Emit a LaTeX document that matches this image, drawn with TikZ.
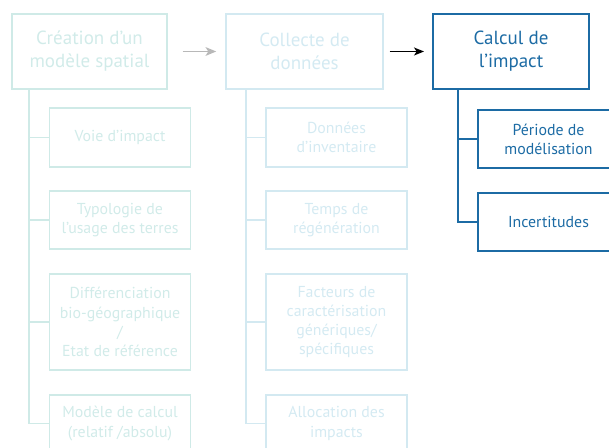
\documentclass[tikz,border=0pt]{standalone}
\usepackage{fontspec}
\setmainfont{PT Sans}
\usetikzlibrary{arrows.meta,calc}
\definecolor{tealA}{HTML}{CFEAE7}
\definecolor{tealT}{HTML}{D1EBE9}
\definecolor{blueB}{HTML}{D3E9F1}
\definecolor{blueT}{HTML}{D4EAF2}
\definecolor{blueC}{HTML}{1C6BA4}
\definecolor{grayarr}{HTML}{B8B8B8}
\tikzset{
  mainbox/.style={draw, minimum width=155*0.75pt, minimum height=75*0.75pt, inner sep=0pt, align=center,
    font=\fontsize{14.25pt}{17.25pt}\selectfont},
  subbox/.style={draw, minimum width=141*0.75pt, inner sep=0pt, align=center,
    font=\fontsize{11.9pt}{14.4pt}\selectfont},
  colA/.style={color=tealA, text=tealT, line width=1.1pt},
  colB/.style={color=blueB, text=blueT, line width=1.1pt},
  colC/.style={color=blueC, text=blueC, line width=1.5pt},
  tree/.style={line width=1.1pt},
}
\begin{document}
\begin{tikzpicture}[x=0.75pt,y=-0.75pt]
\useasboundingbox (0,0) rectangle (609,448);
\clip (0,0) rectangle (609,448);
% main boxes
\node[mainbox,colA] (c1) at (89.5,51.5) {Création d’un\\modèle spatial};
\node[mainbox,colB,minimum width=157*0.75pt] (c2) at (304.5,51.5) {Collecte de\\données};
\node[mainbox,colC,minimum width=156*0.75pt] (c3) at (511,51.5) {Calcul de\\l’impact};
% arrows
\draw[grayarr, line width=1.3pt, -{Stealth[length=8pt,width=6.5pt,inset=2pt]}, shorten <=15*0.75pt, shorten >=9*0.75pt] (c1.east) -- (c2.west);
\draw[black, line width=1.1pt, -{Stealth[length=7.5pt,width=6pt,inset=2pt]}, shorten <=6*0.75pt, shorten >=8*0.75pt] (c2.east) -- (c3.west);
% column 1 sub boxes
\node[subbox,colA,minimum height=59*0.75pt] (a1) at (120,137.5) {Voie d’impact};
\node[subbox,colA,minimum height=58*0.75pt] (a2) at (120,220) {Typologie de\\l’usage des terres};
\node[subbox,colA,minimum height=96*0.75pt] (a3) at (120,322) {Différenciation\\bio-géographique\\/\\Etat de référence};
\node[subbox,colA,minimum height=57*0.75pt] (a4) at (120,423.5) {Modèle de calcul\\(relatif /absolu)};
% column 2 sub boxes
\node[subbox,colB,minimum height=59*0.75pt] (b1) at (336.5,137.5) {Données\\d’inventaire};
\node[subbox,colB,minimum height=58*0.75pt] (b2) at (336.5,220) {Temps de\\régénération};
\node[subbox,colB,minimum height=96*0.75pt] (b3) at (336.5,322) {Facteurs de\\caractérisation\\génériques/\\spécifiques};
\node[subbox,colB,minimum height=57*0.75pt] (b4) at (336.5,423.5) {Allocation des\\impacts};
% column 3 sub boxes
\node[subbox,colC,minimum height=58*0.75pt] (d1) at (548.5,139) {Période de\\modélisation};
\node[subbox,colC,minimum height=58*0.75pt] (d2) at (548.5,222) {Incertitudes};
% spines
\coordinate (p1) at (29,89);
\coordinate (p2) at (246,89);
\coordinate (p3) at (458,89);
\draw[tree,tealA] (p1) |- (a4.west);
\foreach \n in {a1,a2,a3} \draw[tree,tealA] (\n.west) -- (\n.west -| p1);
\draw[tree,blueB] (p2) |- (b4.west);
\foreach \n in {b1,b2,b3} \draw[tree,blueB] (\n.west) -- (\n.west -| p2);
\draw[tree,blueC,line width=1.5pt] (p3) |- (d2.west);
\draw[tree,blueC,line width=1.5pt] (d1.west) -- (d1.west -| p3);
\end{tikzpicture}
\end{document}
